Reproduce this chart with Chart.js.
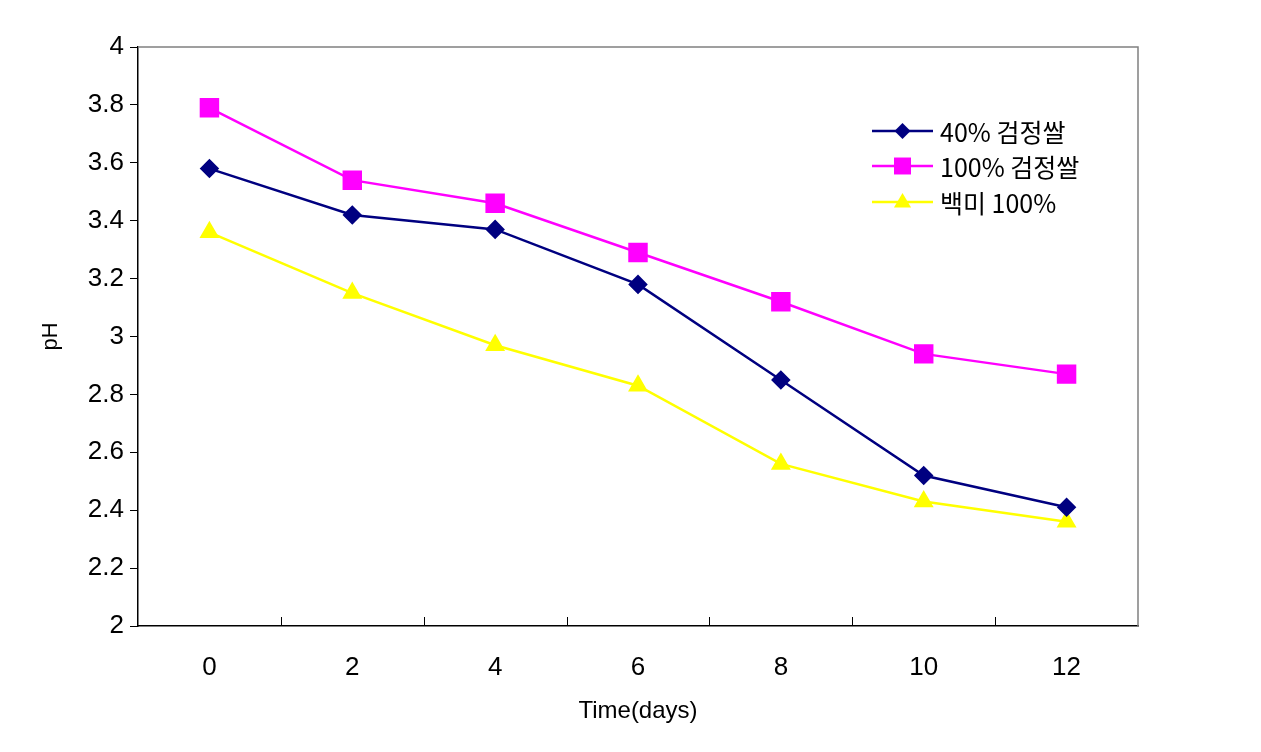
<!DOCTYPE html>
<html>
<head>
<meta charset="utf-8">
<title>pH</title>
<script src="https://cdn.jsdelivr.net/npm/chart.js@4.4.1/dist/chart.umd.min.js"></script>
<style>
	body { margin: 0; background: #fff; }
	canvas { display: block; }
</style>
</head>
<body>
<canvas id="chart-ph" width="1261" height="752"></canvas>
<script>
// Data
const days = ['0', '2', '4', '6', '8', '10', '12'];
const black40 = [3.58, 3.42, 3.37, 3.18, 2.85, 2.52, 2.41];
const black100 = [3.79, 3.54, 3.46, 3.29, 3.12, 2.94, 2.87];
const white100 = [3.36, 3.15, 2.97, 2.83, 2.56, 2.43, 2.36];
const seriesNames = ['40% 검정쌀', '100% 검정쌀', '백미 100%'];

const tickFont = { family: "'Liberation Sans', Arial, sans-serif", size: 26 };

// frame + inner x ticks
const framePlugin = {
	id: 'frame',
	beforeDatasetsDraw(chart) {
		const { ctx, chartArea: a, scales } = chart;
		ctx.save();
		ctx.strokeStyle = '#808080';
		ctx.lineWidth = 1.5;
		ctx.beginPath();
		ctx.moveTo(a.left, a.top);
		ctx.lineTo(a.right, a.top);
		ctx.lineTo(a.right, a.bottom);
		ctx.stroke();
		// x tick marks between categories, pointing up
		ctx.strokeStyle = '#000';
		ctx.lineWidth = 1;
		for (let i = 1; i < days.length; i++) {
			const x = Math.round((scales.x.getPixelForValue(i - 1) + scales.x.getPixelForValue(i)) / 2) + 0.5;
			ctx.beginPath();
			ctx.moveTo(x, a.bottom);
			ctx.lineTo(x, a.bottom - 9);
			ctx.stroke();
		}
		ctx.restore();
	},
};

// legend drawn inside the plot area
function drawMarker(ctx, style, x, y, r) {
	ctx.beginPath();
	if (style === 'rectRot') {
		ctx.moveTo(x, y - r);
		ctx.lineTo(x + r, y);
		ctx.lineTo(x, y + r);
		ctx.lineTo(x - r, y);
	} else if (style === 'rect') {
		const s = r * Math.SQRT1_2;
		ctx.rect(x - s, y - s, 2 * s, 2 * s);
	} else {
		ctx.moveTo(x, y - r);
		ctx.lineTo(x + r * 0.95, y + r * 0.6);
		ctx.lineTo(x - r * 0.95, y + r * 0.6);
	}
	ctx.closePath();
	ctx.fill();
}

const legendPlugin = {
	id: 'innerLegend',
	afterDraw(chart) {
		const { ctx } = chart;
		const x0 = 872, x1 = 933, tx = 940;
		const rows = [131, 166, 202];
		ctx.save();
		ctx.font = "25px 'Noto Sans CJK KR', sans-serif";
		ctx.textBaseline = 'middle';
		chart.data.datasets.forEach((ds, i) => {
			const y = rows[i];
			ctx.strokeStyle = ds.borderColor;
			ctx.lineWidth = 2.5;
			ctx.beginPath();
			ctx.moveTo(x0, y);
			ctx.lineTo(x1, y);
			ctx.stroke();
			ctx.fillStyle = ds.pointBackgroundColor;
			drawMarker(ctx, ds.pointStyle, (x0 + x1) / 2, y, ds.pointRadius);
			ctx.fillStyle = '#000';
			ctx.fillText(ds.label, tx, y + 1);
		});
		ctx.restore();
	},
};

!(function () {
	const ctx = document.getElementById('chart-ph');

	new Chart(ctx, {
		type: 'line',
		data: {
			labels: days,
			datasets: [
				{
					label: seriesNames[0],
					data: black40,
					borderColor: '#000080',
					backgroundColor: '#000080',
					pointBackgroundColor: '#000080',
					pointBorderColor: '#000080',
					pointStyle: 'rectRot',
					pointRadius: 8,
					borderWidth: 2.5,
				},
				{
					label: seriesNames[1],
					data: black100,
					borderColor: '#FF00FF',
					backgroundColor: '#FF00FF',
					pointBackgroundColor: '#FF00FF',
					pointBorderColor: '#FF00FF',
					pointStyle: 'rect',
					pointRadius: 12,
					borderWidth: 2.5,
				},
				{
					label: seriesNames[2],
					data: white100,
					borderColor: '#FFFF00',
					backgroundColor: '#FFFF00',
					pointBackgroundColor: '#FFFF00',
					pointBorderColor: '#FFFF00',
					pointStyle: 'triangle',
					pointRadius: 9,
					borderWidth: 2.5,
				},
			],
		},
		options: {
			responsive: false,
			animation: false,
			layout: {
				padding: { left: 0, right: 123, top: 47, bottom: 0 },
			},
			scales: {
				x: {
					offset: true,
					grid: { display: false, drawOnChartArea: false, drawTicks: false },
					border: { display: true, color: '#000', width: 1.5 },
					ticks: { color: '#000', font: tickFont, padding: 26, maxRotation: 0 },
					title: {
						display: true,
						text: 'Time(days)',
						color: '#000',
						font: { family: "'Liberation Sans', Arial, sans-serif", size: 24 },
						padding: 26,
					},
					afterFit(scale) {
						scale.height = 126;
					},
				},
				y: {
					min: 2,
					max: 4,
					ticks: {
						stepSize: 0.2,
						color: '#000',
						font: tickFont,
						padding: 6,
						callback: (v) => String(Math.round(v * 10) / 10),
					},
					grid: { drawOnChartArea: false, drawTicks: true, tickLength: 8, color: '#000' },
					border: { display: true, color: '#000', width: 1.5 },
					title: {
						display: true,
						text: 'pH',
						color: '#000',
						font: { family: "'Liberation Sans', Arial, sans-serif", size: 22 },
						padding: 38,
					},
					afterFit(scale) {
						scale.width = 138;
					},
				},
			},
			plugins: {
				legend: { display: false },
				tooltip: { enabled: false },
			},
		},
		plugins: [framePlugin, legendPlugin],
	});
})();
</script>
</body>
</html>
